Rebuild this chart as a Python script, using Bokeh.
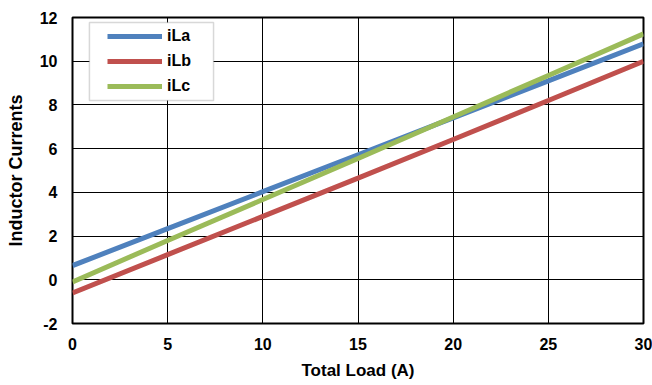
from bokeh.plotting import figure
from bokeh.models import Range1d, Legend, LegendItem, BoxAnnotation, FixedTicker
from bokeh.embed import file_html
from bokeh.resources import INLINE

load = [0, 5, 10, 15, 20, 25, 30]
iLa = [0.65, 2.34, 4.03, 5.72, 7.41, 9.1, 10.8]
iLb = [-0.6, 1.15, 2.9, 4.65, 6.42, 8.2, 10.0]
iLc = [-0.1, 1.8, 3.67, 5.55, 7.45, 9.35, 11.25]
series_names = ["iLa", "iLb", "iLc"]
colors = ["#4F81BD", "#C0504D", "#9BBB59"]
x_ticks = [0, 5, 10, 15, 20, 25, 30]
y_ticks = [-2, 0, 2, 4, 6, 8, 10, 12]
y_tick_labels = ["-2", "0", "2", "4", "6", "8", "10", "12"]

FONT = "Liberation Sans"

p = figure(width=652, height=385, output_backend="svg", toolbar_location=None,
           x_range=Range1d(0, 30), y_range=Range1d(-2, 12),
           min_border_left=72, min_border_right=9, min_border_top=17, min_border_bottom=62)
p.background_fill_color = "white"
p.border_fill_color = "white"
p.outline_line_color = "black"
p.outline_line_width = 2

for ax in (p.xaxis, p.yaxis):
    ax.axis_line_color = None
    ax.major_tick_line_color = None
    ax.minor_tick_line_color = None
    ax.major_tick_out = 0
    ax.major_tick_in = 0
    ax.major_label_text_font = FONT
    ax.major_label_text_font_style = "bold"
    ax.major_label_text_font_size = "16px"
    ax.major_label_text_color = "black"
    ax.axis_label_text_font = FONT
    ax.axis_label_text_font_style = "bold"
    ax.axis_label_text_color = "black"

p.xaxis.ticker = FixedTicker(ticks=x_ticks)
p.yaxis.ticker = FixedTicker(ticks=y_ticks)
p.yaxis.major_label_overrides = {t: s for t, s in zip(y_ticks, y_tick_labels)}
p.xaxis.axis_label = "Total Load (A)"
p.yaxis.axis_label = "Inductor Currents"
p.xaxis.axis_label_text_font_size = "17px"
p.yaxis.axis_label_text_font_size = "18px"
p.xaxis.major_label_standoff = 14
p.xaxis.axis_label_standoff = 8
p.yaxis.major_label_standoff = 15
p.yaxis.axis_label_standoff = 11

p.xgrid.ticker = FixedTicker(ticks=x_ticks)
p.ygrid.ticker = FixedTicker(ticks=y_ticks)
for g in (p.xgrid, p.ygrid):
    g.grid_line_color = "black"
    g.grid_line_width = 1

renderers = []
for name, ys, c in zip(series_names, [iLa, iLb, iLc], colors):
    r = p.line(load, ys, line_color=c, line_width=5)
    renderers.append(r)

# legend frame (white box with grey border)
box = BoxAnnotation(left=0.89, right=7.41, top=11.77, bottom=8.2,
                    fill_color="white", fill_alpha=1.0,
                    line_color="#7F7F7F", line_width=1.5)
p.add_layout(box)

legend = Legend(items=[LegendItem(label=n, renderers=[r]) for n, r in zip(series_names, renderers)],
                location=(35, 227), padding=0, margin=0, spacing=5,
                glyph_width=55, glyph_height=20, label_height=20, label_standoff=5,
                label_text_font=FONT, label_text_font_style="bold", label_text_font_size="16px",
                label_text_color="black", border_line_alpha=0, background_fill_alpha=0)
p.add_layout(legend)

open("out.html", "w").write(file_html(p, INLINE))
